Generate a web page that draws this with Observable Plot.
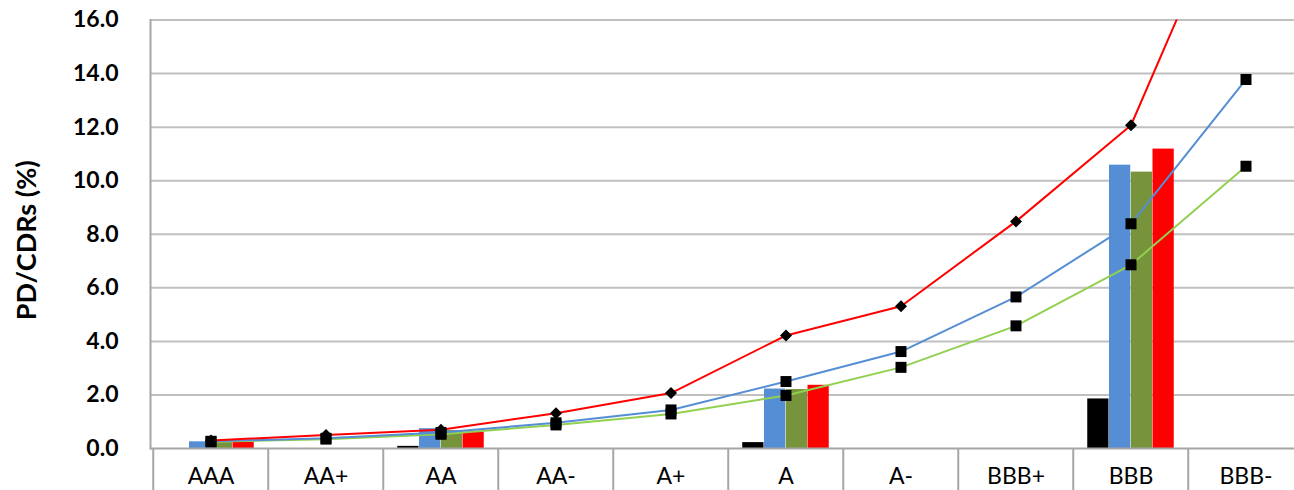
<!DOCTYPE html>
<html><head><meta charset="utf-8">
<script src="https://cdn.jsdelivr.net/npm/d3@7"></script>
<script src="https://cdn.jsdelivr.net/npm/@observablehq/plot@0.6"></script>
<style>
html,body{margin:0;padding:0;background:#fff;overflow:hidden;width:1294px;height:490px}
#chart{width:1294px;height:490px;overflow:hidden}
#chart svg{max-width:none !important}
</style></head><body><div id="chart"></div>
<script>
// ---- data ----
const categories = ["AAA","AA+","AA","AA-","A+","A","A-","BBB+","BBB","BBB-"];
const barBlack = [null, null, 0.08, null, null, 0.22, null, null, 1.85, null];
const barBlue  = [0.25, null, 0.74, null, null, 2.22, null, null, 10.58, null];
const barGreen = [0.22, null, 0.67, null, null, 2.20, null, null, 10.32, null];
const barRed   = [0.24, null, 0.60, null, null, 2.36, null, null, 11.18, null];
const lineRed   = [0.30, 0.50, 0.70, 1.32, 2.07, 4.22, 5.31, 8.48, 12.07, 22.0];
const lineBlue  = [0.27, 0.38, 0.60, 0.96, 1.44, 2.50, 3.62, 5.66, 8.39, 13.78];
const lineGreen = [0.25, 0.35, 0.53, 0.88, 1.29, 1.98, 3.03, 4.58, 6.86, 10.54];
const yTicks = [0, 2, 4, 6, 8, 10, 12, 14, 16];
const yLabel = "PD/CDRs (%)";

// ---- layout ----
const W = 1305, H = 490, ML = 150, MR = 0, MT = 19.5, MB = 42;
const bw = (W - ML - MR) / categories.length;
const barW = 21.75;
const groupPad = (bw - 4 * barW) / 2;
const font = "Lato, 'Open Sans', sans-serif";

const rows = arr => categories.map((c, i) => ({cat: c, v: arr[i]})).filter(d => d.v != null);

const barSeries = [
  {data: barBlack, fill: "#000000"},
  {data: barBlue,  fill: "#558ED5"},
  {data: barGreen, fill: "#77933C"},
  {data: barRed,   fill: "#FF0000"}
];

const barMarks = barSeries.map((s, i) => Plot.barY(rows(s.data), {
  x: "cat", y: "v", fill: s.fill,
  insetLeft: groupPad + i * barW,
  insetRight: bw - groupPad - (i + 1) * barW
}));

const chart = Plot.plot({
  width: W, height: H,
  marginLeft: ML, marginRight: MR, marginTop: MT, marginBottom: MB,
  style: {fontFamily: font, color: "#000", background: "#fff", overflow: "visible", maxWidth: "none"},
  x: {domain: categories, padding: 0},
  y: {domain: [0, 16]},
  marks: [
    Plot.ruleY(yTicks.filter(d => d > 0), {stroke: "#C0C0C0", strokeWidth: 2}),
    ...barMarks,
    Plot.ruleY([0], {stroke: "#A6A6A6", strokeWidth: 2}),
    Plot.frame({anchor: "left", stroke: "#A6A6A6", strokeWidth: 2}),
    Plot.axisX({tickSize: MB, tickFormat: () => "", dx: -bw / 2, stroke: "#A6A6A6", strokeWidth: 2, strokeOpacity: 1, label: null}),
    Plot.axisX({tickSize: 0, tickPadding: 19, fontSize: 23, fill: "#000", label: null}),
    Plot.axisY({ticks: yTicks, tickSize: 0, tickPadding: 32, tickFormat: d => d.toFixed(1), fontSize: 23, fontWeight: "bold", fill: "#000", label: null}),
    Plot.text([yLabel], {text: d => d, frameAnchor: "left", textAnchor: "middle", dx: -123, dy: 6, rotate: -90, fontSize: 27, fontWeight: "bold", fill: "#000"}),
    Plot.line(rows(lineGreen), {x: "cat", y: "v", stroke: "#92D050", strokeWidth: 2, clip: true}),
    Plot.line(rows(lineBlue),  {x: "cat", y: "v", stroke: "#558ED5", strokeWidth: 2, clip: true}),
    Plot.line(rows(lineRed),   {x: "cat", y: "v", stroke: "#FF0000", strokeWidth: 2, clip: true}),
    Plot.dot(rows(lineGreen), {x: "cat", y: "v", symbol: "square", r: 6.2, fill: "#000", stroke: null, clip: true}),
    Plot.dot(rows(lineBlue),  {x: "cat", y: "v", symbol: "square", r: 6.2, fill: "#000", stroke: null, clip: true}),
    Plot.dot(rows(lineRed),   {x: "cat", y: "v", symbol: "diamond2", r: 5.4, fill: "#000", stroke: null, clip: true})
  ]
});
document.getElementById("chart").appendChild(chart);
</script>
</body></html>
